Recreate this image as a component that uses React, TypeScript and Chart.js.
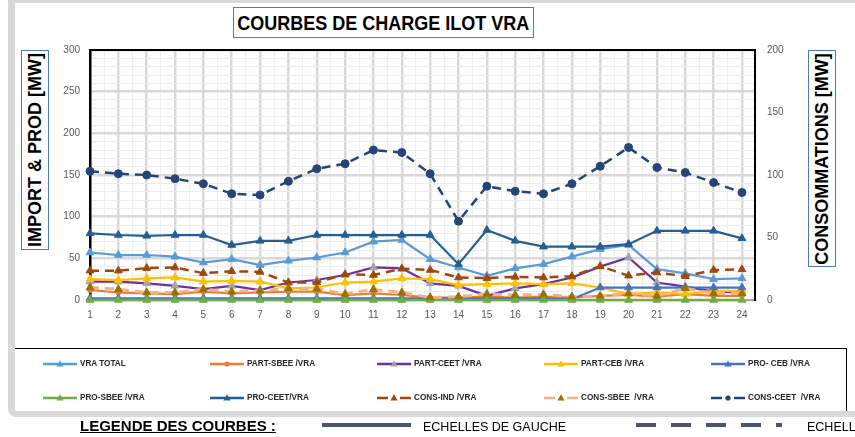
import React, { useEffect, useRef } from 'react';
import { Chart, registerables } from 'chart.js';

Chart.register(...registerables);

const HOURS = [1, 2, 3, 4, 5, 6, 7, 8, 9, 10, 11, 12, 13, 14, 15, 16, 17, 18, 19, 20, 21, 22, 23, 24];

// Left axis (IMPORT & PROD)
const VRA_TOTAL = [57, 54, 54, 52, 45, 49, 42, 47, 51, 57, 70, 72, 49, 39, 29, 38, 43, 52, 61, 66, 37, 32, 25, 26];
const PART_SBEE = [12, 9, 8, 7, 10, 8, 9, 10, 10, 6, 8, 6, 3, 3, 4, 3, 4, 3, 5, 6, 4, 7, 5, 5];
const PART_CEET = [22, 22, 20, 17, 13, 17, 12, 21, 24, 30, 39, 38, 20, 17, 5, 14, 19, 27, 40, 51, 21, 16, 10, 9];
const PART_CEB = [25, 24, 26, 27, 22, 23, 22, 14, 15, 21, 22, 26, 25, 18, 19, 20, 19, 20, 15, 7, 9, 7, 11, 11];
const PRO_CEB = [2, 2, 2, 2, 2, 2, 2, 2, 2, 2, 2, 2, 2, 2, 2, 2, 2, 1, 15, 15, 15, 15, 15, 15];
const PRO_SBEE = [0, 0, 0, 0, 0, 0, 0, 0, 0, 0, 0, 0, 0, 0, 0, 0, 0, 0, 0, 0, 0, 0, 0, 0];
const PRO_CEET = [80, 78, 77, 78, 78, 66, 71, 71, 78, 78, 78, 78, 78, 43, 84, 71, 64, 64, 64, 67, 83, 83, 83, 74];
// Right axis (CONSOMMATIONS)
const CONS_IND = [23.5, 23.5, 25.5, 26, 21.5, 23, 22.5, 14, 14, 20.5, 20, 25, 24, 18, 17.5, 18.5, 18, 19, 27, 19.5, 22, 19, 24, 24.5];
const CONS_SBEE = [10, 8.5, 6, 6, 8.5, 6.7, 7.5, 9.3, 9, 4.8, 8.5, 6, 2, 2.7, 4.8, 4, 4.5, 2.7, 3.2, 5.3, 3.2, 9.3, 5.3, 5.3];
const CONS_CEET = [103, 101, 100, 97, 93, 85, 84, 95, 105, 109, 120, 118, 101, 63, 91, 87, 85, 93, 107, 122, 106, 102, 94, 86];

const LEFT_TICKS_MAX = 300;
const RIGHT_TICKS_MAX = 200;

const FONT = "'Liberation Sans', Arial, sans-serif";

type Spec = {
  label: string;
  data: number[];
  color: string;
  marker: string;
  markerColor: string;
  style: 'tri' | 'circle';
  radius: number;
  dashed: boolean;
  width: number;
  axis: 'yL' | 'yR';
};

const SPECS: Spec[] = [
  { label: 'VRA TOTAL', data: VRA_TOTAL, color: '#5B9BD5', marker: 'triangle', markerColor: '#5B9BD5', style: 'tri', radius: 4.5, dashed: false, width: 2.25, axis: 'yL' },
  { label: 'PART-SBEE /VRA', data: PART_SBEE, color: '#ED7D31', marker: 'circle', markerColor: '#ED7D31', style: 'circle', radius: 2.5, dashed: false, width: 2.25, axis: 'yL' },
  { label: 'PART-CEET /VRA', data: PART_CEET, color: '#7030A0', marker: 'triangle', markerColor: '#A5A5A5', style: 'tri', radius: 4.5, dashed: false, width: 2.25, axis: 'yL' },
  { label: 'PART-CEB /VRA', data: PART_CEB, color: '#FFC000', marker: 'triangle', markerColor: '#FFC000', style: 'tri', radius: 4.5, dashed: false, width: 2.25, axis: 'yL' },
  { label: 'PRO- CEB /VRA', data: PRO_CEB, color: '#4472C4', marker: 'triangle', markerColor: '#4472C4', style: 'tri', radius: 4.5, dashed: false, width: 2.25, axis: 'yL' },
  { label: 'PRO-SBEE /VRA', data: PRO_SBEE, color: '#70AD47', marker: 'triangle', markerColor: '#70AD47', style: 'tri', radius: 4.5, dashed: false, width: 2.5, axis: 'yL' },
  { label: 'PRO-CEET/VRA', data: PRO_CEET, color: '#255E91', marker: 'triangle', markerColor: '#255E91', style: 'tri', radius: 4.5, dashed: false, width: 2.25, axis: 'yL' },
  { label: 'CONS-IND /VRA', data: CONS_IND, color: '#9E480E', marker: 'triangle', markerColor: '#9E480E', style: 'tri', radius: 4.5, dashed: true, width: 2.5, axis: 'yR' },
  { label: 'CONS-SBEE  /VRA', data: CONS_SBEE, color: '#F4B183', marker: 'triangle', markerColor: '#997300', style: 'tri', radius: 4.5, dashed: true, width: 3, axis: 'yR' },
  { label: 'CONS-CEET  /VRA', data: CONS_CEET, color: '#264478', marker: 'circle', markerColor: '#264478', style: 'circle', radius: 4, dashed: true, width: 2.5, axis: 'yR' },
];

const LEGEND_COLS = [43, 210, 377, 544, 711];
const LEGEND_ROWS = [364, 398];

const framePlugin = {
  id: 'frameTop',
  afterDraw(chart: any) {
    const { ctx, chartArea } = chart;
    ctx.save();
    ctx.strokeStyle = '#000';
    ctx.lineWidth = 2;
    ctx.beginPath();
    ctx.moveTo(chartArea.left - 1, chartArea.top);
    ctx.lineTo(chartArea.right + 1, chartArea.top);
    ctx.stroke();
    ctx.restore();
  },
};

function LegendSample({ s }: { s: Spec }) {
  return (
    <svg width={34} height={10} style={{ display: 'block', flex: 'none' }}>
      {s.dashed ? (
        <>
          <line x1={0} x2={11} y1={5} y2={5} stroke={s.color} strokeWidth={2.5} />
          <line x1={23} x2={34} y1={5} y2={5} stroke={s.color} strokeWidth={2.5} />
        </>
      ) : (
        <line x1={0} x2={34} y1={5} y2={5} stroke={s.color} strokeWidth={2.5} />
      )}
      {s.style === 'tri' ? (
        <polygon points="17,1.2 20.6,7.6 13.4,7.6" fill={s.markerColor} />
      ) : (
        <circle cx={17} cy={5} r={2.6} fill={s.markerColor} />
      )}
    </svg>
  );
}

export default function App() {
  const ref = useRef<HTMLCanvasElement>(null);

  useEffect(() => {
    const canvas = ref.current;
    if (!canvas) return;
    const N = SPECS.length;
    const datasets = SPECS.map((s, i) => ({
      label: s.label,
      data: HOURS.map((h, k) => ({ x: h, y: s.data[k] })),
      borderColor: s.color,
      backgroundColor: s.markerColor,
      pointBackgroundColor: s.markerColor,
      pointBorderColor: s.markerColor,
      pointBorderWidth: 1,
      pointStyle: s.marker,
      pointRadius: s.radius,
      borderWidth: s.width,
      borderDash: s.dashed ? [9, 6] : [],
      tension: 0,
      fill: false,
      clip: false as any,
      yAxisID: s.axis,
      order: N - i,
    }));

    const chart = new Chart(canvas, {
      type: 'line',
      data: { datasets },
      plugins: [framePlugin],
      options: {
        animation: false,
        responsive: false,
        devicePixelRatio: 1,
        layout: { padding: { left: 50, right: 55, top: 50, bottom: 107 } },
        plugins: { legend: { display: false }, tooltip: { enabled: false }, title: { display: false } },
        scales: {
          x: {
            type: 'linear',
            min: 1,
            max: 24.46,
            afterFit: (s: any) => { s.height = 30; },
            ticks: {
              stepSize: 0.5,
              includeBounds: false,
              autoSkip: false,
              maxRotation: 0,
              padding: 9,
              color: '#595959',
              font: { family: FONT, size: 10 },
              callback: (v: any) => (Number.isInteger(Number(v)) ? String(v) : ''),
            },
            grid: {
              drawTicks: false,
              color: (c: any) => (c.tick && Number.isInteger(c.tick.value) ? '#D9D9D9' : '#EFEFEF'),
              lineWidth: (c: any) => (c.tick && Number.isInteger(c.tick.value) ? 2.5 : 1),
            },
            border: { display: true, color: '#A6A6A6', width: 2 },
          },
          yL: {
            type: 'linear',
            position: 'left',
            min: 0,
            max: LEFT_TICKS_MAX,
            afterFit: (s: any) => { s.width = 40; },
            ticks: {
              stepSize: 10,
              autoSkip: false,
              padding: 10,
              color: '#595959',
              font: { family: FONT, size: 10 },
              callback: (v: any) => (Number(v) % 50 === 0 ? String(v) : ''),
            },
            grid: {
              drawTicks: false,
              color: (c: any) => (c.tick && c.tick.value % 50 === 0 ? '#D9D9D9' : '#EDEDED'),
              lineWidth: (c: any) => (c.tick && c.tick.value % 50 === 0 ? 2.5 : 1),
            },
            border: { display: true, color: '#000', width: 2.5 },
          },
          yR: {
            type: 'linear',
            position: 'right',
            min: 0,
            max: RIGHT_TICKS_MAX,
            afterFit: (s: any) => { s.width = 45; },
            ticks: {
              stepSize: 50,
              autoSkip: false,
              padding: 12,
              color: '#595959',
              font: { family: FONT, size: 10 },
            },
            grid: { drawOnChartArea: false, drawTicks: false },
            border: { display: true, color: '#000', width: 2 },
          },
        },
      },
    });
    return () => chart.destroy();
  }, []);

  const boxBlue = '#4A7EBB';

  return (
    <div style={{ position: 'fixed', left: 0, top: 0, width: 855, height: 437, overflow: 'hidden', background: '#fff', fontFamily: FONT }}>
      {/* outer gray frame */}
      <div style={{ position: 'absolute', left: 8, top: 0, width: 900, height: 417, boxSizing: 'border-box', borderTop: '3px solid #D9D9D9', borderLeft: '7px solid #D9D9D9', borderBottom: '6px solid #D9D9D9', borderBottomLeftRadius: 8 }} />
      {/* legend box */}
      <div style={{ position: 'absolute', left: 15, top: 348, width: 832, height: 63, boxSizing: 'border-box', borderTop: '1px solid #000', borderRight: '1px solid #000' }} />

      <canvas ref={ref} width={855} height={437} style={{ position: 'absolute', left: 0, top: 0, width: 855, height: 437 }} />

      {/* title */}
      <div style={{ position: 'absolute', left: 233, top: 7, width: 301, height: 31, boxSizing: 'border-box', border: `1.5px solid ${boxBlue}`, background: '#fff', display: 'flex', alignItems: 'center', justifyContent: 'center' }}>
        <span style={{ fontWeight: 'bold', fontSize: 20, color: '#000', whiteSpace: 'nowrap', display: 'inline-block', transform: 'scaleX(0.9)', lineHeight: '20px' }}>COURBES DE CHARGE ILOT VRA</span>
      </div>

      {/* left axis title */}
      <div style={{ position: 'absolute', left: 21, top: 50, width: 28, height: 200, boxSizing: 'border-box', border: `1.5px solid ${boxBlue}`, background: '#fff' }}>
        <div style={{ position: 'absolute', left: '50%', top: '50%', transform: 'translate(-50%, -50%) rotate(-90deg)', whiteSpace: 'nowrap', fontWeight: 'bold', fontSize: 18, lineHeight: '18px', color: '#000' }}>IMPORT &amp; PROD [MW]</div>
      </div>

      {/* right axis title */}
      <div style={{ position: 'absolute', left: 808, top: 50, width: 28, height: 217, boxSizing: 'border-box', border: `1.5px solid ${boxBlue}`, background: '#fff' }}>
        <div style={{ position: 'absolute', left: '50%', top: '50%', transform: 'translate(-50%, -50%) rotate(-90deg)', whiteSpace: 'nowrap', fontWeight: 'bold', fontSize: 18, lineHeight: '18px', color: '#000' }}>CONSOMMATIONS [MW]</div>
      </div>

      {/* legend */}
      {SPECS.map((s, i) => (
        <div key={s.label} style={{ position: 'absolute', left: LEGEND_COLS[i % 5], top: LEGEND_ROWS[Math.floor(i / 5)] - 6, height: 12, display: 'flex', alignItems: 'center' }}>
          <LegendSample s={s} />
          <span style={{ marginLeft: 3, fontWeight: 'bold', fontSize: 8.2, color: '#262626', whiteSpace: 'pre', lineHeight: '12px' }}>{s.label}</span>
        </div>
      ))}

      {/* bottom legend */}
      <div style={{ position: 'absolute', left: 80, top: 418, fontWeight: 'bold', fontSize: 15, lineHeight: '15px', textDecoration: 'underline', whiteSpace: 'nowrap', color: '#000' }}>LEGENDE DES COURBES :</div>
      <div style={{ position: 'absolute', left: 322, top: 423, width: 89, height: 4, background: '#4A5670' }} />
      <div style={{ position: 'absolute', left: 423, top: 421, fontSize: 12.5, lineHeight: '12.5px', whiteSpace: 'nowrap', color: '#000' }}>ECHELLES DE GAUCHE</div>
      <div style={{ position: 'absolute', left: 636, top: 423, width: 146, height: 4, background: 'repeating-linear-gradient(to right, #4A5670 0px, #4A5670 20px, transparent 20px, transparent 35px)' }} />
      <div style={{ position: 'absolute', left: 807, top: 421, fontSize: 12.5, lineHeight: '12.5px', whiteSpace: 'nowrap', color: '#000' }}>ECHELLES DE DROITE</div>
    </div>
  );
}
